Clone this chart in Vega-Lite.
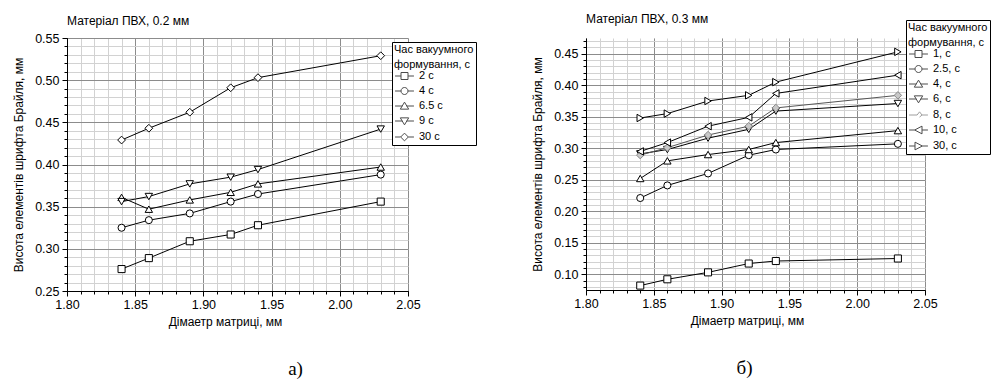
{
  "$schema": "https://vega.github.io/schema/vega-lite/v6.json",
  "background": "white",
  "padding": {"left": 12, "top": 12, "right": 0, "bottom": 0},
  "bounds": "flush",
  "spacing": 178,
  "resolve": {"scale": {"shape": "independent", "stroke": "independent"}, "legend": {"shape": "independent", "stroke": "independent"}},
  "datasets": {
    "a": [
      {"d": 1.84, "h": 0.276, "t": "2 с"}, {"d": 1.86, "h": 0.289, "t": "2 с"}, {"d": 1.89, "h": 0.309, "t": "2 с"}, {"d": 1.92, "h": 0.317, "t": "2 с"}, {"d": 1.94, "h": 0.328, "t": "2 с"}, {"d": 2.03, "h": 0.356, "t": "2 с"},
      {"d": 1.84, "h": 0.325, "t": "4 с"}, {"d": 1.86, "h": 0.334, "t": "4 с"}, {"d": 1.89, "h": 0.342, "t": "4 с"}, {"d": 1.92, "h": 0.356, "t": "4 с"}, {"d": 1.94, "h": 0.365, "t": "4 с"}, {"d": 2.03, "h": 0.388, "t": "4 с"},
      {"d": 1.84, "h": 0.361, "t": "6.5 с"}, {"d": 1.86, "h": 0.347, "t": "6.5 с"}, {"d": 1.89, "h": 0.358, "t": "6.5 с"}, {"d": 1.92, "h": 0.367, "t": "6.5 с"}, {"d": 1.94, "h": 0.377, "t": "6.5 с"}, {"d": 2.03, "h": 0.397, "t": "6.5 с"},
      {"d": 1.84, "h": 0.356, "t": "9 с"}, {"d": 1.86, "h": 0.362, "t": "9 с"}, {"d": 1.89, "h": 0.377, "t": "9 с"}, {"d": 1.92, "h": 0.385, "t": "9 с"}, {"d": 1.94, "h": 0.394, "t": "9 с"}, {"d": 2.03, "h": 0.442, "t": "9 с"},
      {"d": 1.84, "h": 0.429, "t": "30 с"}, {"d": 1.86, "h": 0.443, "t": "30 с"}, {"d": 1.89, "h": 0.462, "t": "30 с"}, {"d": 1.92, "h": 0.491, "t": "30 с"}, {"d": 1.94, "h": 0.503, "t": "30 с"}, {"d": 2.03, "h": 0.529, "t": "30 с"}
    ],
    "b": [
      {"d": 1.84, "h": 0.082, "t": "1, с"}, {"d": 1.86, "h": 0.092, "t": "1, с"}, {"d": 1.89, "h": 0.103, "t": "1, с"}, {"d": 1.92, "h": 0.117, "t": "1, с"}, {"d": 1.94, "h": 0.121, "t": "1, с"}, {"d": 2.03, "h": 0.125, "t": "1, с"},
      {"d": 1.84, "h": 0.221, "t": "2.5, с"}, {"d": 1.86, "h": 0.241, "t": "2.5, с"}, {"d": 1.89, "h": 0.26, "t": "2.5, с"}, {"d": 1.92, "h": 0.289, "t": "2.5, с"}, {"d": 1.94, "h": 0.298, "t": "2.5, с"}, {"d": 2.03, "h": 0.307, "t": "2.5, с"},
      {"d": 1.84, "h": 0.252, "t": "4, с"}, {"d": 1.86, "h": 0.28, "t": "4, с"}, {"d": 1.89, "h": 0.29, "t": "4, с"}, {"d": 1.92, "h": 0.298, "t": "4, с"}, {"d": 1.94, "h": 0.309, "t": "4, с"}, {"d": 2.03, "h": 0.328, "t": "4, с"},
      {"d": 1.84, "h": 0.291, "t": "6, с"}, {"d": 1.86, "h": 0.298, "t": "6, с"}, {"d": 1.89, "h": 0.316, "t": "6, с"}, {"d": 1.92, "h": 0.33, "t": "6, с"}, {"d": 1.94, "h": 0.359, "t": "6, с"}, {"d": 2.03, "h": 0.371, "t": "6, с"},
      {"d": 1.84, "h": 0.289, "t": "8, с"}, {"d": 1.86, "h": 0.301, "t": "8, с"}, {"d": 1.89, "h": 0.321, "t": "8, с"}, {"d": 1.92, "h": 0.335, "t": "8, с"}, {"d": 1.94, "h": 0.364, "t": "8, с"}, {"d": 2.03, "h": 0.384, "t": "8, с"},
      {"d": 1.84, "h": 0.295, "t": "10, с"}, {"d": 1.86, "h": 0.309, "t": "10, с"}, {"d": 1.89, "h": 0.335, "t": "10, с"}, {"d": 1.92, "h": 0.349, "t": "10, с"}, {"d": 1.94, "h": 0.387, "t": "10, с"}, {"d": 2.03, "h": 0.416, "t": "10, с"},
      {"d": 1.84, "h": 0.348, "t": "30, с"}, {"d": 1.86, "h": 0.355, "t": "30, с"}, {"d": 1.89, "h": 0.375, "t": "30, с"}, {"d": 1.92, "h": 0.384, "t": "30, с"}, {"d": 1.94, "h": 0.405, "t": "30, с"}, {"d": 2.03, "h": 0.453, "t": "30, с"}
    ]
  },
  "hconcat": [
    {
      "width": 341,
      "height": 253,
      "data": {"name": "a"},
      "title": {"text": "Матеріал ПВХ, 0.2 мм", "anchor": "start", "frame": "group", "font": "Liberation Sans", "fontSize": 12, "fontWeight": "normal", "color": "#000", "offset": 4},
      "resolve": {"axis": {"x": "independent", "y": "independent"}},
      "layer": [
        {
          "mark": {"type": "line", "strokeWidth": 1, "stroke": "#000"},
          "encoding": {
            "x": {"field": "d", "type": "quantitative", "scale": {"domain": [1.8, 2.05], "nice": false, "zero": false},
              "axis": {"orient": "bottom", "values": [1.8,1.81,1.82,1.83,1.84,1.85,1.86,1.87,1.88,1.89,1.9,1.91,1.92,1.93,1.94,1.95,1.96,1.97,1.98,1.99,2.0,2.01,2.02,2.03,2.04,2.05], "grid": true, "gridColor": "#d2d2d2", "labels": false, "domain": false, "ticks": true, "tickSize": 3, "tickColor": "#000", "title": "а)", "titleFont": "Liberation Serif", "titleFontSize": 19, "titleFontWeight": "normal", "titleColor": "#000", "titlePadding": 65, "titleX": 228, "zindex": 0}},
            "y": {"field": "h", "type": "quantitative", "scale": {"domain": [0.25, 0.55], "nice": false, "zero": false},
              "axis": {"orient": "left", "values": [0.25,0.26,0.27,0.28,0.29,0.3,0.31,0.32,0.33,0.34,0.35,0.36,0.37,0.38,0.39,0.4,0.41,0.42,0.43,0.44,0.45,0.46,0.47,0.48,0.49,0.5,0.51,0.52,0.53,0.54,0.55], "grid": true, "gridColor": "#d2d2d2", "labels": false, "domain": false, "ticks": true, "tickSize": 3, "tickColor": "#000", "title": null, "zindex": 0}},
            "detail": {"field": "t", "type": "nominal"}
          }
        },
        {
          "transform": [{"filter": "datum.t == '2 с'"}],
          "mark": {"type": "point", "shape": "square", "filled": true, "fill": "white", "stroke": "#000", "size": 50, "strokeWidth": 1, "opacity": 1},
          "encoding": {
            "x": {"field": "d", "type": "quantitative",
              "axis": {"orient": "bottom", "values": [1.8, 1.85, 1.9, 1.95, 2.0, 2.05], "format": ".2f", "grid": true, "gridColor": "#8c8c8c", "domain": true, "domainColor": "#000", "tickSize": 5, "tickColor": "#000", "labelFlush": false, "labelFont": "Liberation Sans", "labelFontSize": 12.5, "labelColor": "#000", "labelPadding": 2, "title": "Дімаетр матриці, мм", "titleFont": "Liberation Sans", "titleFontSize": 12, "titleFontWeight": "normal", "titleColor": "#000", "titlePadding": 6, "titleX": 158, "zindex": 0}},
            "y": {"field": "h", "type": "quantitative",
              "axis": {"orient": "left", "values": [0.25, 0.3, 0.35, 0.4, 0.45, 0.5, 0.55], "format": ".2f", "grid": true, "gridColor": "#8c8c8c", "domain": true, "domainColor": "#000", "tickSize": 5, "tickColor": "#000", "labelFlush": false, "labelFont": "Liberation Sans", "labelFontSize": 12.5, "labelColor": "#000", "labelPadding": 3, "title": "Висота елементів шрифта Брайля, мм", "titleFont": "Liberation Sans", "titleFontSize": 12, "titleFontWeight": "normal", "titleColor": "#000", "titlePadding": 9, "zindex": 0}}
          }
        },
        {
          "transform": [{"filter": "datum.t == '4 с'"}],
          "mark": {"type": "point", "shape": "circle", "filled": true, "fill": "white", "stroke": "#000", "size": 50, "strokeWidth": 1, "opacity": 1},
          "encoding": {"x": {"field": "d", "type": "quantitative", "axis": null}, "y": {"field": "h", "type": "quantitative", "axis": null}}
        },
        {
          "transform": [{"filter": "datum.t == '6.5 с'"}],
          "mark": {"type": "point", "shape": "triangle-up", "filled": true, "fill": "white", "stroke": "#000", "size": 55, "strokeWidth": 1, "opacity": 1},
          "encoding": {"x": {"field": "d", "type": "quantitative", "axis": null}, "y": {"field": "h", "type": "quantitative", "axis": null}}
        },
        {
          "transform": [{"filter": "datum.t == '9 с'"}],
          "mark": {"type": "point", "shape": "triangle-down", "filled": true, "fill": "white", "stroke": "#000", "size": 55, "strokeWidth": 1, "opacity": 1},
          "encoding": {"x": {"field": "d", "type": "quantitative", "axis": null}, "y": {"field": "h", "type": "quantitative", "axis": null}}
        },
        {
          "transform": [{"filter": "datum.t == '30 с'"}],
          "mark": {"type": "point", "shape": "diamond", "filled": true, "fill": "white", "stroke": "#000", "size": 60, "strokeWidth": 1, "opacity": 1},
          "encoding": {"x": {"field": "d", "type": "quantitative", "axis": null}, "y": {"field": "h", "type": "quantitative", "axis": null}}
        },
        {
          "data": {"values": []},
          "mark": {"type": "point", "filled": false, "size": 49, "strokeWidth": 1},
          "encoding": {
            "shape": {"field": "t", "type": "nominal", "scale": {"domain": ["2 с", "4 с", "6.5 с", "9 с", "30 с"], "range": [
              "M-2.7,0L-1,0M1,0L2.7,0M-1,-1L1,-1L1,1L-1,1Z",
              "M-2.7,0L-1,0M1,0L2.7,0M-1,0A1,1 0 1,0 1,0A1,1 0 1,0 -1,0Z",
              "M-2.7,0L-0.6,0M0.6,0L2.7,0M0,-1.1L1.2,0.9L-1.2,0.9Z",
              "M-2.7,0L-0.6,0M0.6,0L2.7,0M0,1.1L1.2,-0.9L-1.2,-0.9Z",
              "M-2.7,0L-1.1,0M1.1,0L2.7,0M0,-1.1L1.1,0L0,1.1L-1.1,0Z"]},
              "legend": {"orient": "none", "legendX": 325, "legendY": 4, "title": ["Час вакуумного", "формування, с"], "titleFont": "Liberation Sans", "titleFontSize": 11, "titleFontWeight": "normal", "titleColor": "#000", "titleLineHeight": 14.5, "titlePadding": 1, "labelFont": "Liberation Sans", "labelFontSize": 11, "labelColor": "#000", "labelOffset": 9, "symbolOffset": 5, "rowPadding": 3, "padding": 2, "strokeColor": "#000", "fillColor": "#fff", "symbolSize": 49, "symbolStrokeWidth": 1}},
            "stroke": {"field": "t", "type": "nominal", "scale": {"domain": ["2 с", "4 с", "6.5 с", "9 с", "30 с"], "range": ["#000", "#000", "#000", "#000", "#000"]},
              "legend": {"orient": "none", "legendX": 325, "legendY": 4, "title": ["Час вакуумного", "формування, с"], "titleFont": "Liberation Sans", "titleFontSize": 11, "titleFontWeight": "normal", "titleColor": "#000", "titleLineHeight": 14.5, "titlePadding": 1, "labelFont": "Liberation Sans", "labelFontSize": 11, "labelColor": "#000", "labelOffset": 9, "symbolOffset": 5, "rowPadding": 3, "padding": 2, "strokeColor": "#000", "fillColor": "#fff", "symbolSize": 49, "symbolStrokeWidth": 1}}
          }
        }
      ]
    },
    {
      "width": 339,
      "height": 252,
      "data": {"name": "b"},
      "title": {"text": "Матеріал ПВХ, 0.3 мм", "anchor": "start", "frame": "group", "font": "Liberation Sans", "fontSize": 12, "fontWeight": "normal", "color": "#000", "offset": -6},
      "resolve": {"axis": {"x": "independent", "y": "independent"}},
      "layer": [
        {
          "transform": [{"filter": "datum.t != '8, с'"}],
          "mark": {"type": "line", "strokeWidth": 1, "stroke": "#000"},
          "encoding": {
            "x": {"field": "d", "type": "quantitative", "scale": {"domain": [1.8, 2.05], "nice": false, "zero": false},
              "axis": {"orient": "bottom", "values": [1.8,1.81,1.82,1.83,1.84,1.85,1.86,1.87,1.88,1.89,1.9,1.91,1.92,1.93,1.94,1.95,1.96,1.97,1.98,1.99,2.0,2.01,2.02,2.03,2.04,2.05], "grid": true, "gridColor": "#d2d2d2", "labels": false, "domain": false, "ticks": true, "tickSize": 3, "tickColor": "#000", "title": "б)", "titleFont": "Liberation Serif", "titleFontSize": 19, "titleFontWeight": "normal", "titleColor": "#000", "titlePadding": 65, "titleX": 158, "zindex": 0}},
            "y": {"field": "h", "type": "quantitative", "scale": {"domain": [0.075, 0.475], "nice": false, "zero": false},
              "axis": {"orient": "left", "values": [0.08,0.09,0.1,0.11,0.12,0.13,0.14,0.15,0.16,0.17,0.18,0.19,0.2,0.21,0.22,0.23,0.24,0.25,0.26,0.27,0.28,0.29,0.3,0.31,0.32,0.33,0.34,0.35,0.36,0.37,0.38,0.39,0.4,0.41,0.42,0.43,0.44,0.45,0.46,0.47], "grid": true, "gridColor": "#d2d2d2", "labels": false, "domain": false, "ticks": true, "tickSize": 3, "tickColor": "#000", "title": null, "zindex": 0}},
            "detail": {"field": "t", "type": "nominal"}
          }
        },
        {
          "transform": [{"filter": "datum.t == '8, с'"}],
          "mark": {"type": "line", "strokeWidth": 1, "stroke": "#555"},
          "encoding": {"x": {"field": "d", "type": "quantitative", "axis": null}, "y": {"field": "h", "type": "quantitative", "axis": null}}
        },
        {
          "transform": [{"filter": "datum.t == '1, с'"}],
          "mark": {"type": "point", "shape": "square", "filled": true, "fill": "white", "stroke": "#000", "size": 50, "strokeWidth": 1, "opacity": 1},
          "encoding": {
            "x": {"field": "d", "type": "quantitative",
              "axis": {"orient": "bottom", "values": [1.8, 1.85, 1.9, 1.95, 2.0, 2.05], "format": ".2f", "grid": true, "gridColor": "#8c8c8c", "domain": true, "domainColor": "#000", "tickSize": 5, "tickColor": "#000", "labelFlush": false, "labelFont": "Liberation Sans", "labelFontSize": 12.5, "labelColor": "#000", "labelPadding": 2, "title": "Дімаетр матриці, мм", "titleFont": "Liberation Sans", "titleFontSize": 12, "titleFontWeight": "normal", "titleColor": "#000", "titlePadding": 6, "titleX": 161, "zindex": 0}},
            "y": {"field": "h", "type": "quantitative",
              "axis": {"orient": "left", "values": [0.1, 0.15, 0.2, 0.25, 0.3, 0.35, 0.4, 0.45], "format": ".2f", "grid": true, "gridColor": "#8c8c8c", "domain": true, "domainColor": "#000", "tickSize": 5, "tickColor": "#000", "labelFlush": false, "labelFont": "Liberation Sans", "labelFontSize": 12.5, "labelColor": "#000", "labelPadding": 3, "title": "Висота елементів шрифта Брайля, мм", "titleFont": "Liberation Sans", "titleFontSize": 12, "titleFontWeight": "normal", "titleColor": "#000", "titlePadding": 9, "zindex": 0}}
          }
        },
        {
          "transform": [{"filter": "datum.t == '2.5, с'"}],
          "mark": {"type": "point", "shape": "circle", "filled": true, "fill": "white", "stroke": "#000", "size": 50, "strokeWidth": 1, "opacity": 1},
          "encoding": {"x": {"field": "d", "type": "quantitative", "axis": null}, "y": {"field": "h", "type": "quantitative", "axis": null}}
        },
        {
          "transform": [{"filter": "datum.t == '4, с'"}],
          "mark": {"type": "point", "shape": "triangle-up", "filled": true, "fill": "white", "stroke": "#000", "size": 55, "strokeWidth": 1, "opacity": 1},
          "encoding": {"x": {"field": "d", "type": "quantitative", "axis": null}, "y": {"field": "h", "type": "quantitative", "axis": null}}
        },
        {
          "transform": [{"filter": "datum.t == '6, с'"}],
          "mark": {"type": "point", "shape": "triangle-down", "filled": true, "fill": "white", "stroke": "#000", "size": 55, "strokeWidth": 1, "opacity": 1},
          "encoding": {"x": {"field": "d", "type": "quantitative", "axis": null}, "y": {"field": "h", "type": "quantitative", "axis": null}}
        },
        {
          "transform": [{"filter": "datum.t == '8, с'"}],
          "mark": {"type": "point", "shape": "diamond", "filled": true, "fill": "#c8c8c8", "stroke": "#888", "size": 55, "strokeWidth": 1, "opacity": 1},
          "encoding": {"x": {"field": "d", "type": "quantitative", "axis": null}, "y": {"field": "h", "type": "quantitative", "axis": null}}
        },
        {
          "transform": [{"filter": "datum.t == '10, с'"}],
          "mark": {"type": "point", "shape": "triangle-left", "filled": true, "fill": "white", "stroke": "#000", "size": 55, "strokeWidth": 1, "opacity": 1},
          "encoding": {"x": {"field": "d", "type": "quantitative", "axis": null}, "y": {"field": "h", "type": "quantitative", "axis": null}}
        },
        {
          "transform": [{"filter": "datum.t == '30, с'"}],
          "mark": {"type": "point", "shape": "triangle-right", "filled": true, "fill": "white", "stroke": "#000", "size": 55, "strokeWidth": 1, "opacity": 1},
          "encoding": {"x": {"field": "d", "type": "quantitative", "axis": null}, "y": {"field": "h", "type": "quantitative", "axis": null}}
        },
        {
          "data": {"values": []},
          "mark": {"type": "point", "filled": false, "size": 49, "strokeWidth": 1},
          "encoding": {
            "shape": {"field": "t", "type": "nominal", "scale": {"domain": ["1, с", "2.5, с", "4, с", "6, с", "8, с", "10, с", "30, с"], "range": [
              "M-2.7,0L-1,0M1,0L2.7,0M-1,-1L1,-1L1,1L-1,1Z",
              "M-2.7,0L-1,0M1,0L2.7,0M-1,0A1,1 0 1,0 1,0A1,1 0 1,0 -1,0Z",
              "M-2.7,0L-0.6,0M0.6,0L2.7,0M0,-1.1L1.2,0.9L-1.2,0.9Z",
              "M-2.7,0L-0.6,0M0.6,0L2.7,0M0,1.1L1.2,-0.9L-1.2,-0.9Z",
              "M-2.7,0L-0.4,0L0.3,-0.9L1,0L0.3,0.6M1,0L2.7,0",
              "M-2.7,0L-1.1,0M1,0L2.7,0M-1.1,0L1,-1.1L1,1.1Z",
              "M-2.7,0L-1,0M1.1,0L2.7,0M1.1,0L-1,-1.1L-1,1.1Z"]},
              "legend": {"orient": "none", "legendX": 320, "legendY": -18, "title": ["Час вакуумного", "формування, с"], "titleFont": "Liberation Sans", "titleFontSize": 11, "titleFontWeight": "normal", "titleColor": "#000", "titleLineHeight": 14.5, "titlePadding": 1, "labelFont": "Liberation Sans", "labelFontSize": 11, "labelColor": "#000", "labelOffset": 9, "symbolOffset": 5, "rowPadding": 3, "padding": 2, "strokeColor": "#000", "fillColor": "#fff", "symbolSize": 49, "symbolStrokeWidth": 1}},
            "stroke": {"field": "t", "type": "nominal", "scale": {"domain": ["1, с", "2.5, с", "4, с", "6, с", "8, с", "10, с", "30, с"], "range": ["#000", "#000", "#000", "#000", "#777", "#000", "#000"]},
              "legend": {"orient": "none", "legendX": 320, "legendY": -18, "title": ["Час вакуумного", "формування, с"], "titleFont": "Liberation Sans", "titleFontSize": 11, "titleFontWeight": "normal", "titleColor": "#000", "titleLineHeight": 14.5, "titlePadding": 1, "labelFont": "Liberation Sans", "labelFontSize": 11, "labelColor": "#000", "labelOffset": 9, "symbolOffset": 5, "rowPadding": 3, "padding": 2, "strokeColor": "#000", "fillColor": "#fff", "symbolSize": 49, "symbolStrokeWidth": 1}}
          }
        }
      ]
    }
  ],
  "config": {
    "view": {"stroke": null},
    "font": "Liberation Sans"
  }
}
